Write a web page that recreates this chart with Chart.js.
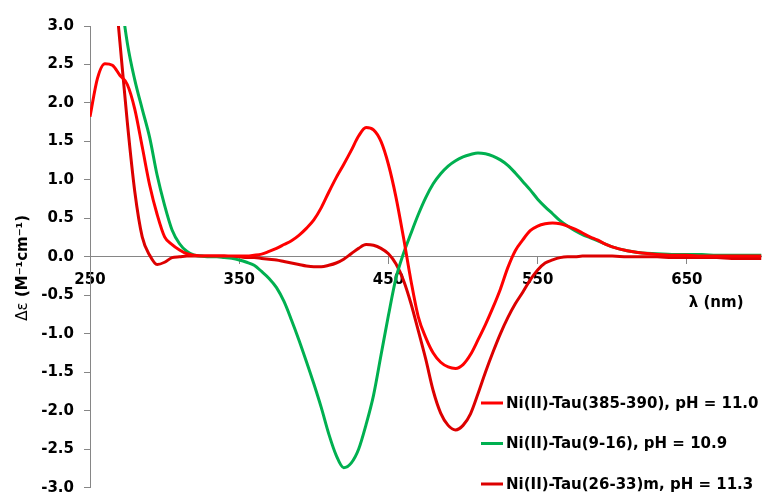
<!DOCTYPE html>
<html>
<head>
<meta charset="utf-8">
<script src="https://cdn.jsdelivr.net/npm/chart.js@4.4.1/dist/chart.umd.min.js"></script>
<style>
  html, body { margin: 0; padding: 0; background: #fff; }
  #wrap { width: 769px; height: 495px; position: relative; }
</style>
</head>
<body>
<div id="wrap"><canvas id="cd"></canvas></div>
<script>
// wavelength grid (nm)
const wavelengths = [
  250, 255, 260, 265, 270, 275, 280, 285, 290, 295,
  300, 305, 310, 315, 320, 325, 330, 335, 340, 345,
  350, 355, 360, 365, 370, 375, 380, 385, 390, 395,
  400, 405, 410, 415, 420, 425, 430, 435, 440, 445,
  450, 455, 460, 465, 470, 475, 480, 485, 490, 495,
  500, 505, 510, 515, 520, 525, 530, 535, 540, 545,
  550, 555, 560, 565, 570, 575, 580, 585, 590, 595,
  600, 610, 620, 630, 640, 650, 660, 670, 680, 690, 700
]

// delta epsilon (M-1 cm-1)
const tau385 = [
  1.82, 2.32, 2.51, 2.49, 2.36, 2.24, 1.92, 1.43, 0.93, 0.55,
  0.26, 0.16, 0.09, 0.04, 0.02, 0.01, 0.01, 0.01, 0.01, 0.01,
  0.01, 0.01, 0.02, 0.035, 0.07, 0.11, 0.16, 0.21, 0.28, 0.37,
  0.48, 0.64, 0.84, 1.03, 1.20, 1.38, 1.57, 1.68, 1.65, 1.50,
  1.20, 0.78, 0.26, -0.30, -0.78, -1.05, -1.25, -1.37, -1.43, -1.45,
  -1.40, -1.27, -1.08, -0.88, -0.66, -0.42, -0.14, 0.08, 0.22, 0.34,
  0.40, 0.43, 0.44, 0.43, 0.40, 0.36, 0.31, 0.26, 0.22, 0.17,
  0.13, 0.08, 0.05, 0.03, 0.02, 0.02, 0.01, 0.01, 0.01, 0.01, 0.01
]
const tau9 = [
  7.4, 6.4, 5.4, 4.4, 3.5, 2.78, 2.30, 1.92, 1.55, 1.06,
  0.67, 0.35, 0.17, 0.07, 0.02, 0.01, 0.00, 0.00, -0.01, -0.02,
  -0.04, -0.07, -0.11, -0.19, -0.28, -0.40, -0.58, -0.82, -1.08, -1.36,
  -1.65, -1.96, -2.30, -2.58, -2.74, -2.68, -2.50, -2.18, -1.80, -1.28,
  -0.76, -0.28, 0.04, 0.30, 0.55, 0.77, 0.95, 1.08, 1.18, 1.25,
  1.30, 1.33, 1.35, 1.34, 1.31, 1.26, 1.19, 1.09, 0.98, 0.87,
  0.75, 0.65, 0.56, 0.47, 0.40, 0.34, 0.29, 0.25, 0.21, 0.17,
  0.13, 0.08, 0.05, 0.04, 0.03, 0.03, 0.03, 0.02, 0.02, 0.02, 0.02
]
const tau26m = [
  6.0, 5.4, 4.7, 3.85, 2.80, 1.75, 0.85, 0.26, 0.02, -0.10,
  -0.07, -0.01, 0.00, 0.01, 0.01, 0.01, 0.01, 0.01, 0.01, 0.00,
  0.00, -0.01, -0.01, -0.02, -0.03, -0.04, -0.06, -0.08, -0.10, -0.12,
  -0.13, -0.13, -0.11, -0.08, -0.03, 0.04, 0.11, 0.16, 0.15, 0.11,
  0.04, -0.09, -0.30, -0.60, -0.96, -1.33, -1.74, -2.03, -2.19, -2.25,
  -2.19, -2.04, -1.78, -1.50, -1.24, -1.00, -0.79, -0.61, -0.46, -0.30,
  -0.17, -0.08, -0.04, -0.01, 0.00, 0.00, 0.01, 0.01, 0.01, 0.01,
  0.01, 0.00, 0.00, 0.00, -0.01, -0.01, -0.01, -0.01, -0.02, -0.02, -0.02
]

const seriesNames = [
  'Ni(II)-Tau(385-390), pH = 11.0',
  'Ni(II)-Tau(9-16), pH = 10.9',
  'Ni(II)-Tau(26-33)m, pH = 11.3'
]
const seriesColors = ['#ff0000', '#00b050', '#dc0000']
const xTicks = [250, 350, 450, 550, 650]
const yTicks = [-3, -2.5, -2, -1.5, -1, -0.5, 0, 0.5, 1, 1.5, 2, 2.5, 3]

const axisGray = '#868686'
const fontFamily = '"DejaVu Sans", "Liberation Sans", Arial, sans-serif'
Chart.defaults.font.family = fontFamily
Chart.defaults.font.size = 15
Chart.defaults.font.weight = 'bold'
Chart.defaults.color = '#000'

const toPoints = vals => wavelengths.map((w, i) => ({x: w, y: vals[i]}))

// axis titles and the legend, drawn on top of the plot
const annotations = {
  id: 'annotations',
  afterDraw(chart) {
    const {ctx, chartArea, scales} = chart
    const zeroY = scales.y.getPixelForValue(0)
    ctx.save()
    ctx.fillStyle = '#000'
    ctx.textBaseline = 'middle'

    // x title
    ctx.font = 'bold 15px ' + fontFamily
    ctx.textAlign = 'right'
    ctx.fillText('\u03bb (nm)', chartArea.right - 18, zeroY + 46)

    // y title, rotated
    ctx.translate(23, (chartArea.top + chartArea.bottom) / 2 + 11)
    ctx.rotate(-Math.PI / 2)
    const head = '\u0394\u03b5'
    const tail = ' (M\u207b\u00b9cm\u207b\u00b9)'
    ctx.font = '15px ' + fontFamily
    const wHead = ctx.measureText(head).width
    ctx.font = 'bold 15px ' + fontFamily
    const wTail = ctx.measureText(tail).width
    ctx.textAlign = 'left'
    ctx.font = '15px ' + fontFamily
    ctx.fillText(head, -(wHead + wTail) / 2, 0)
    ctx.font = 'bold 15px ' + fontFamily
    ctx.fillText(tail, -(wHead + wTail) / 2 + wHead, 0)
    ctx.restore()

    // legend
    ctx.save()
    ctx.font = 'bold 15px ' + fontFamily
    ctx.textAlign = 'left'
    ctx.textBaseline = 'middle'
    const lx = 481, rowY = [403, 443.5, 484]
    chart.data.datasets.forEach((ds, i) => {
      ctx.strokeStyle = ds.borderColor
      ctx.lineWidth = 3
      ctx.beginPath()
      ctx.moveTo(lx, rowY[i])
      ctx.lineTo(lx + 22, rowY[i])
      ctx.stroke()
      ctx.fillStyle = '#000'
      ctx.fillText(ds.label, lx + 25, rowY[i] + 1)
    })
    ctx.restore()
  }
}

const datasets = [tau385, tau9, tau26m].map((vals, i) => ({
  label: seriesNames[i],
  data: toPoints(vals),
  borderColor: seriesColors[i],
  backgroundColor: seriesColors[i],
  borderWidth: 3,
  pointRadius: 0,
  cubicInterpolationMode: 'monotone',
  fill: false
}))

new Chart(document.getElementById('cd'), {
  type: 'line',
  data: {datasets},
  options: {
    responsive: true,
    maintainAspectRatio: false,
    animation: false,
    devicePixelRatio: 1,
    layout: {padding: {top: 26, right: 7.5, bottom: 7.3, left: 0}},
    plugins: {legend: {display: false}, tooltip: {enabled: false}},
    scales: {
      x: {
        type: 'linear',
        min: 250,
        max: 700,
        position: {y: 0},
        afterBuildTicks: s => { s.ticks = xTicks.map(v => ({value: v})) },
        grid: {drawOnChartArea: false, tickLength: 7, color: axisGray},
        border: {color: axisGray, width: 1},
        ticks: {padding: 7, maxRotation: 0, autoSkip: false}
      },
      y: {
        type: 'linear',
        min: -3,
        max: 3,
        afterBuildTicks: s => { s.ticks = yTicks.map(v => ({value: v})) },
        afterFit: s => {
          // fixed axis width; end labels may overhang the plot edges
          s.width = 90
          s.paddingTop = 0
          s.paddingBottom = 0
        },
        grid: {drawOnChartArea: false, tickLength: 6, color: axisGray},
        border: {color: axisGray, width: 1},
        ticks: {padding: 10, callback: v => v.toFixed(1)}
      }
    }
  },
  plugins: [annotations]
})
</script>
</body>
</html>
